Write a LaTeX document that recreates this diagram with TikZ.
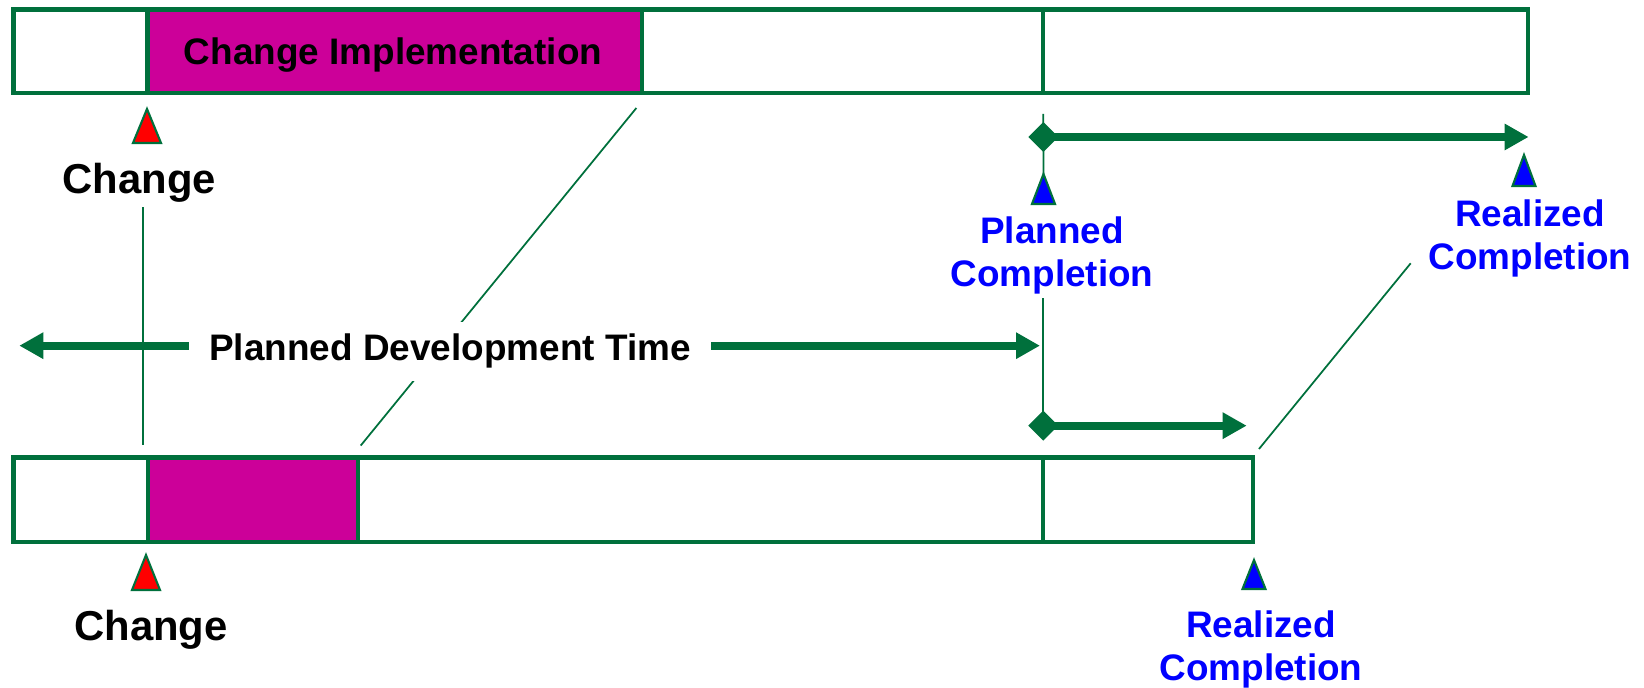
\documentclass[tikz,border=0pt]{standalone}
\usepackage{fontspec}
\setmainfont{Liberation Sans}
\usetikzlibrary{arrows.meta}

\definecolor{bargreen}{RGB}{0,112,60}
\definecolor{implmagenta}{RGB}{204,0,153}
\definecolor{mileblue}{RGB}{0,0,255}
\definecolor{milered}{RGB}{255,0,0}

% name, x, base y, fill, half width, height
\newcommand{\milestone}[6]{%
    \filldraw[fill=#4, draw=bargreen, line width=0.6pt]
        ({#2-#5},#3) -- (#2,{#3+#6}) -- ({#2+#5},#3) -- cycle;
    \coordinate (#1) at (#2,{#3+#6});%
}

\tikzset{
    bar/.style={draw=bargreen, line width=1.2pt},
    thinline/.style={draw=bargreen, line width=0.5pt},
    span/.style={draw=bargreen, line width=2.3pt},
    darktext/.style={font=\bfseries\fontsize{10.5}{12.3}\selectfont, inner sep=1pt},
    bigtext/.style={font=\bfseries\fontsize{11.9}{14}\selectfont, inner sep=1pt},
    bluetext/.style={darktext, text=mileblue, align=center},
    mile/.tip={Diamond[length=0.3cm,width=0.3cm]},
    >={Triangle[length=0.24cm,width=0.25cm]}
}

\begin{document}
\begin{tikzpicture}
    \useasboundingbox (0,0) rectangle (16.44,6.88);

    % ~~~~ Plan ~~~~ %
    \fill[implmagenta] (1.475,5.95) rectangle (6.417,6.785);
    \draw[bar] (0.135,5.95) rectangle (15.28,6.785);
    \foreach \x in {1.475,6.417,10.433}
        \draw[bar] (\x,5.95) -- (\x,6.785);
    \node[darktext, anchor=base] (impl) at (3.93,6.23) {Change Implementation};

    % ~~~~ Actual ~~~~ %
    \fill[implmagenta] (1.48,1.463) rectangle (3.58,2.305);
    \draw[bar] (0.135,1.463) rectangle (12.533,2.305);
    \foreach \x in {1.48,3.58,10.43}
        \draw[bar] (\x,1.463) -- (\x,2.305);

    % ~~~~ Milestones ~~~~ %
    \milestone{chgmark}{1.47}{5.45}{milered}{0.14}{0.34}
    \milestone{chgmarkb}{1.46}{0.98}{milered}{0.14}{0.35}
    \milestone{pcmark}{10.435}{4.84}{mileblue}{0.115}{0.30}
    \milestone{rcmark}{15.24}{5.02}{mileblue}{0.115}{0.31}
    \milestone{rcmarkb}{12.54}{0.99}{mileblue}{0.115}{0.29}

    \node[bigtext, anchor=base] (chgtop) at (1.393,4.94) {Change};
    \node[bigtext, anchor=base] (chgbot) at (1.51,0.47) {Change};
    \node[bluetext] (plancomp) at (10.52,4.328) {Planned\\Completion};
    \node[bluetext] (realtop) at (15.30,4.498) {Realized\\Completion};
    \node[bluetext] (realbot) at (12.61,0.388) {Realized\\Completion};

    % ~~~~ Links ~~~~ %
    \coordinate (chgfoot) at (1.43,2.43);
    \coordinate (impltop) at (6.364,5.80);
    \coordinate (implbot) at (3.607,2.424);
    \coordinate (plantick) at (10.433,5.74);
    \coordinate (pcfoot) at (10.433,2.51);
    \coordinate (rctail) at (14.107,4.247);
    \coordinate (rcfoot) at (12.59,2.39);

    \draw[thinline] (chgtop.south -| chgfoot) -- (chgfoot);
    \draw[thinline] (impltop) -- (implbot);
    \draw[thinline] (plantick) -- (pcmark);
    \draw[thinline] (plancomp.south -| pcfoot) -- (pcfoot);
    \draw[thinline] (rctail) -- (rcfoot);

    % ~~~~ Spans ~~~~ %
    \coordinate (slipA) at (10.283,5.51);
    \coordinate (slipB) at (15.286,5.51);
    \coordinate (gapA) at (10.283,2.623);
    \coordinate (gapB) at (12.467,2.623);
    \coordinate (devA) at (0.193,3.423);
    \coordinate (devB) at (10.40,3.423);
    \draw[span, mile->] (slipA) -- (slipB);
    \draw[span, mile->] (gapA) -- (gapB);
    \draw[span, <->] (devA) -- (devB);
    \node[darktext, anchor=base, fill=white, inner xsep=0.2cm, inner ysep=0.12cm]
        (pdt) at (4.50,3.27) {Planned Development Time};
\end{tikzpicture}
\end{document}
